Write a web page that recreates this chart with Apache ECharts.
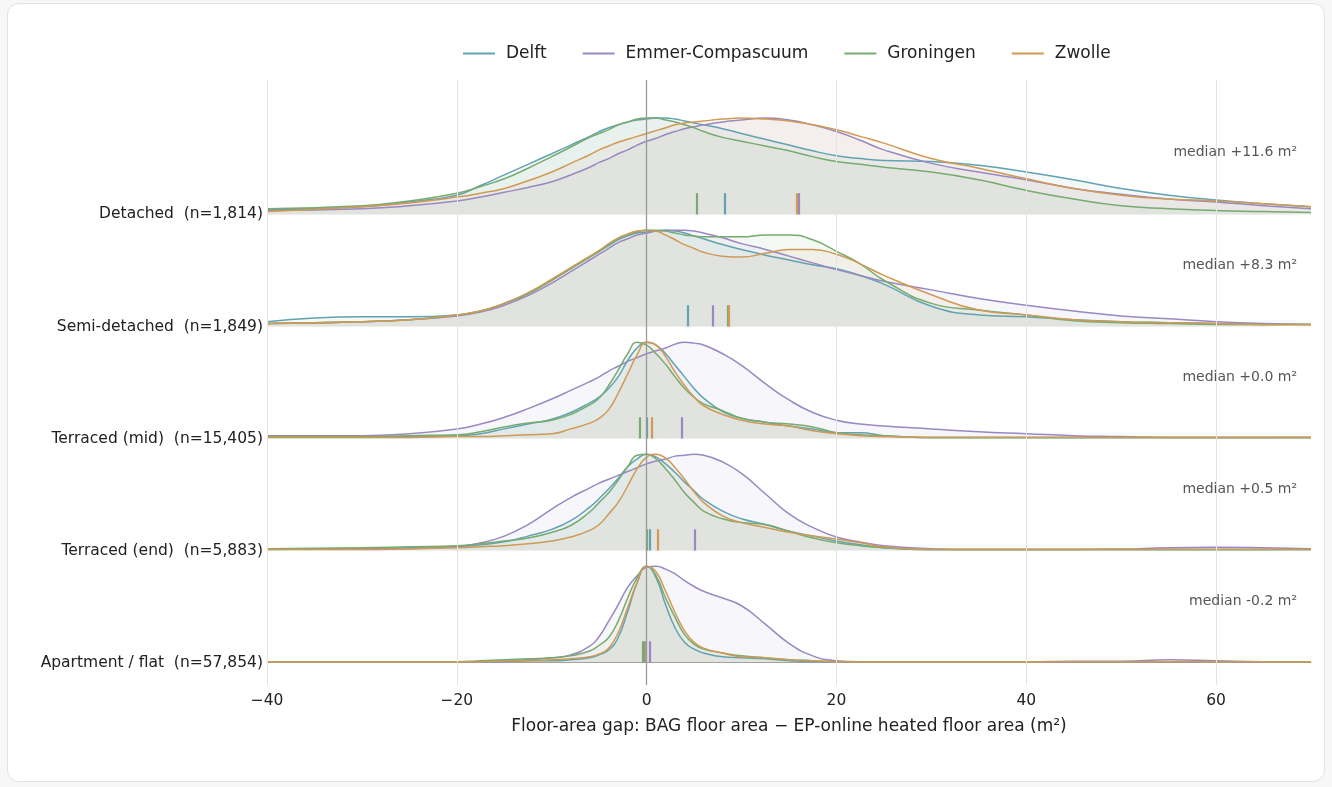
<!DOCTYPE html>
<html>
<head>
<meta charset="utf-8">
<script src="https://cdn.jsdelivr.net/npm/echarts@6/dist/echarts.min.js"></script>
<style>
  html, body { margin: 0; padding: 0; background: #f7f7f7; }
  #card { position: absolute; left: 7px; top: 3px; width: 1316px; height: 777px;
          background: #fff; border: 1px solid #e2e2e2; border-radius: 12px; }
  #main { position: absolute; left: 0; top: 0; width: 1332px; height: 787px; }
</style>
</head>
<body>
<div id="card"></div>
<div id="main"></div>
<script>
// x positions where the densities were read (m²)
var XS = [-40, -30, -25, -20, -17.5, -15, -12.5, -10, -8, -6, -5, -4, -3, -2, -1,
          0, 1, 2, 3, 4, 5, 6, 8, 10, 12.5, 15, 17.5, 20, 22.5, 25,
          30, 35, 40, 45, 50, 55, 60, 65, 70];

var ROW_LABELS = ['Detached  (n=1,814)', 'Semi-detached  (n=1,849)', 'Terraced (mid)  (n=15,405)',
                  'Terraced (end)  (n=5,883)', 'Apartment / flat  (n=57,854)'];
var ROW_MEDIANS = ['+11.6', '+8.3', '+0.0', '+0.5', '-0.2'];

var CITIES = ['Delft', 'Emmer-Compascuum', 'Groningen', 'Zwolle'];
var COLORS = ['#62a3b2', '#9a88c2', '#77ab70', '#d09a55'];

// normalised densities (peak = 1), one array per row, top row first
var DELFT = [
  [0.05,0.08,0.13,0.20, 0.30,0.41,0.52,0.63, 0.72,0.81,0.86,0.90,0.93,0.96,0.98, 0.99, 1.0,1.0,0.99,0.97,0.95,0.93, 0.89,0.84, 0.78,0.72,0.66,0.61,0.58,0.56, 0.55,0.51,0.44,0.36,0.27,0.20,0.15,0.11,0.08],
  [0.05,0.10,0.10,0.12, 0.16,0.24,0.34,0.48, 0.60,0.72,0.78,0.84,0.90,0.94,0.97, 0.98, 0.99,1.0,0.99,0.97,0.94,0.91, 0.85,0.80, 0.74,0.69,0.64,0.60,0.53,0.44, 0.21,0.12,0.10,0.07,0.05,0.04,0.03,0.02,0.02],
  [0.02,0.02,0.02,0.03, 0.05,0.10,0.15,0.20, 0.27,0.37,0.43,0.52,0.64,0.81,0.94, 1.0, 0.97,0.88,0.76,0.64,0.52,0.42, 0.28,0.21, 0.17,0.13,0.10,0.06,0.06,0.03, 0.01,0.01,0.01,0.01,0.01,0.01,0.01,0.01,0.01],
  [0.02,0.02,0.03,0.04, 0.06,0.09,0.15,0.22, 0.31,0.45,0.54,0.64,0.75,0.87,0.95, 1.0, 0.97,0.90,0.81,0.71,0.62,0.53, 0.41,0.33, 0.27,0.20,0.15,0.10,0.06,0.03, 0.01,0.01,0.01,0.01,0.01,0.01,0.01,0.01,0.01],
  [0.01,0.01,0.01,0.01, 0.01,0.01,0.02,0.02, 0.03,0.05,0.08,0.13,0.26,0.53,0.83, 1.0, 0.88,0.60,0.36,0.21,0.14,0.10, 0.06,0.05, 0.04,0.02,0.01,0.01,0.01,0.01, 0.01,0.01,0.01,0.01,0.01,0.01,0.01,0.01,0.01]
];
var EMMER = [
  [0.04,0.06,0.09,0.14, 0.18,0.23,0.28,0.34, 0.41,0.49,0.54,0.58,0.63,0.67,0.72, 0.76, 0.79,0.83,0.86,0.89,0.91,0.93, 0.96,0.98, 1.0,0.98,0.93,0.86,0.77,0.67, 0.53,0.44,0.36,0.27,0.21,0.16,0.13,0.09,0.06],
  [0.03,0.05,0.07,0.11, 0.15,0.22,0.32,0.45, 0.57,0.69,0.75,0.81,0.87,0.91,0.95, 0.97, 0.99,1.0,1.0,1.0,0.99,0.97, 0.92,0.86, 0.80,0.73,0.66,0.59,0.53,0.47, 0.38,0.29,0.22,0.16,0.11,0.08,0.05,0.03,0.02],
  [0.03,0.03,0.05,0.10, 0.15,0.22,0.31,0.41, 0.50,0.59,0.64,0.70,0.75,0.80,0.84, 0.88, 0.91,0.94,0.98,1.0,0.99,0.97, 0.88,0.76, 0.57,0.40,0.27,0.19,0.15,0.13, 0.10,0.07,0.05,0.03,0.02,0.01,0.01,0.01,0.01],
  [0.01,0.02,0.02,0.04, 0.08,0.15,0.27,0.43, 0.55,0.65,0.70,0.74,0.78,0.82,0.86, 0.90, 0.93,0.95,0.98,0.99,1.0,0.99, 0.92,0.80, 0.59,0.38,0.24,0.14,0.09,0.05, 0.02,0.01,0.01,0.01,0.015,0.03,0.035,0.03,0.02],
  [0.01,0.01,0.01,0.01, 0.01,0.02,0.03,0.05, 0.08,0.17,0.27,0.43,0.60,0.78,0.90, 0.99, 1.0,0.97,0.92,0.85,0.79,0.74, 0.67,0.59, 0.40,0.20,0.07,0.02,0.01,0.01, 0.01,0.01,0.01,0.015,0.015,0.03,0.02,0.01,0.01]
];
var GRONINGEN = [
  [0.06,0.09,0.14,0.22, 0.29,0.37,0.48,0.60, 0.70,0.80,0.84,0.88,0.93,0.96,0.99, 1.0, 1.0,0.98,0.96,0.93,0.90,0.86, 0.80,0.76, 0.71,0.66,0.60,0.55,0.52,0.49, 0.44,0.36,0.25,0.16,0.09,0.06,0.04,0.03,0.02],
  [0.03,0.05,0.07,0.12, 0.16,0.24,0.34,0.48, 0.60,0.72,0.78,0.85,0.91,0.95,0.98, 1.0, 1.0,0.99,0.97,0.95,0.94,0.93, 0.93,0.93, 0.95,0.95,0.90,0.78,0.65,0.48, 0.24,0.17,0.12,0.06,0.04,0.03,0.02,0.02,0.02],
  [0.02,0.02,0.03,0.04, 0.07,0.12,0.16,0.19, 0.25,0.35,0.42,0.55,0.71,0.88,1.0, 0.97, 0.88,0.77,0.64,0.52,0.43,0.36, 0.29,0.21, 0.17,0.15,0.12,0.06,0.04,0.03, 0.01,0.01,0.01,0.01,0.01,0.01,0.01,0.01,0.01],
  [0.02,0.03,0.04,0.05, 0.07,0.10,0.13,0.19, 0.26,0.40,0.50,0.60,0.73,0.87,0.99, 1.0, 0.95,0.85,0.73,0.60,0.50,0.41, 0.33,0.29, 0.27,0.20,0.13,0.08,0.05,0.03, 0.01,0.01,0.01,0.01,0.01,0.01,0.01,0.01,0.01],
  [0.01,0.01,0.01,0.01, 0.02,0.03,0.04,0.05, 0.07,0.12,0.18,0.26,0.43,0.67,0.88, 1.0, 0.90,0.67,0.47,0.29,0.19,0.14, 0.10,0.07, 0.05,0.03,0.02,0.01,0.01,0.01, 0.01,0.01,0.01,0.01,0.01,0.01,0.01,0.01,0.01]
];
var ZWOLLE = [
  [0.03,0.08,0.12,0.18, 0.22,0.27,0.35,0.44, 0.53,0.62,0.67,0.71,0.75,0.78,0.81, 0.84, 0.87,0.90,0.93,0.95,0.96,0.97, 0.99,1.0, 0.99,0.97,0.93,0.88,0.81,0.74, 0.58,0.48,0.37,0.27,0.20,0.16,0.14,0.11,0.08],
  [0.03,0.05,0.07,0.12, 0.16,0.24,0.35,0.49, 0.61,0.73,0.79,0.86,0.92,0.96,0.99, 1.0, 0.99,0.95,0.90,0.85,0.81,0.77, 0.73,0.72, 0.76,0.80,0.80,0.75,0.65,0.53, 0.33,0.17,0.12,0.07,0.05,0.04,0.03,0.02,0.02],
  [0.01,0.01,0.01,0.02, 0.02,0.03,0.04,0.05, 0.10,0.16,0.21,0.30,0.47,0.67,0.87, 1.0, 0.97,0.85,0.69,0.55,0.43,0.34, 0.25,0.19, 0.15,0.13,0.08,0.05,0.03,0.02, 0.01,0.01,0.01,0.01,0.01,0.01,0.01,0.01,0.01],
  [0.01,0.01,0.02,0.03, 0.04,0.05,0.07,0.10, 0.14,0.21,0.27,0.38,0.50,0.67,0.85, 0.97, 1.0,0.96,0.86,0.74,0.61,0.50, 0.36,0.29, 0.24,0.19,0.15,0.12,0.08,0.04, 0.01,0.01,0.01,0.01,0.01,0.01,0.01,0.01,0.01],
  [0.01,0.01,0.01,0.01, 0.01,0.02,0.02,0.03, 0.04,0.06,0.09,0.15,0.31,0.57,0.83, 1.0, 0.94,0.74,0.52,0.33,0.21,0.15, 0.10,0.06, 0.05,0.03,0.02,0.01,0.01,0.01, 0.01,0.01,0.01,0.01,0.01,0.01,0.01,0.01,0.01]
];
var DENSITIES = [DELFT, EMMER, GRONINGEN, ZWOLLE];

// per-city medians for each row (m²)
var MED_DELFT = [8.2, 4.3, 0.0, 0.3, -0.2];
var MED_EMMER = [16.0, 7.0, 3.7, 5.1, 0.3];
var MED_GRONINGEN = [5.3, 8.5, -0.7, 0.0, -0.4];
var MED_ZWOLLE = [15.8, 8.7, 0.5, 1.2, -0.1];
var MEDIANS = [MED_DELFT, MED_EMMER, MED_GRONINGEN, MED_ZWOLLE];

var X_TICKS = [-40, -20, 0, 20, 40, 60];

var ROW_STEP = 10;   // y units between baselines
var PEAK = 8.6;      // height of a normalised peak
var TICK_H = 1.9;    // height of the median ticks
var FONT = 'DejaVu Sans';

function baseOf(r) { return (ROW_LABELS.length - 1 - r) * ROW_STEP; }

var chart = echarts.init(document.getElementById('main'));
var series = [];

// grid lines
series.push({
    type: 'line', data: [], silent: true, z: 1,
    markLine: {
        symbol: 'none', silent: true, label: {show: false},
        lineStyle: {color: '#e4e4e4', width: 1, type: 'solid'},
        data: X_TICKS.map(function (v) { return {xAxis: v}; })
    }
});

for (var r = 0; r < ROW_LABELS.length; r++) {
    var base = baseOf(r);
    for (var c = 0; c < CITIES.length; c++) {
        var dens = DENSITIES[c][r];
        var pts = [];
        for (var i = 0; i < XS.length; i++) {
            pts.push([XS[i], base + dens[i] * PEAK]);
        }
        var m = MEDIANS[c][r];
        series.push({
            name: CITIES[c],
            type: 'line',
            data: pts,
            smooth: 0.5,
            showSymbol: false,
            symbol: 'none',
            z: 3,
            color: COLORS[c],
            lineStyle: {width: 1.5, color: COLORS[c]},
            areaStyle: {color: COLORS[c], opacity: 0.08, origin: base},
            markLine: {
                symbol: 'none', silent: true, label: {show: false},
                lineStyle: {color: COLORS[c], width: 2.2, type: 'solid'},
                data: [[{coord: [m, base]}, {coord: [m, base + TICK_H]}]]
            }
        });
    }
    // median text on the right
    series.push({
        type: 'scatter', name: 'median', silent: true, z: 5,
        symbolSize: 0,
        data: [[70, base + 5.5]],
        label: {
            show: true, position: 'left', distance: 14,
            formatter: 'median ' + ROW_MEDIANS[r] + ' m²',
            fontFamily: FONT, fontSize: 14, color: '#2a2a2a'
        }
    });
}

// zero line on top
series.push({
    type: 'line', data: [], silent: true, z: 4,
    markLine: {
        symbol: 'none', silent: true, label: {show: false},
        lineStyle: {color: '#9a9a9a', width: 1.3, type: 'solid'},
        data: [{xAxis: 0}]
    }
});

chart.setOption({
    animation: false,
    backgroundColor: 'transparent',
    textStyle: {fontFamily: FONT},
    legend: {
        data: CITIES,
        left: 458,
        top: 40,
        icon: 'rect',
        itemWidth: 32,
        itemHeight: 2,
        itemGap: 36,
        textStyle: {fontFamily: FONT, fontSize: 17, color: '#222', padding: [0, 0, 0, 6]}
    },
    grid: {left: 267, right: 21, top: 80, bottom: 102, containLabel: false},
    xAxis: {
        type: 'value',
        min: -40, max: 70, interval: 20,
        name: 'Floor-area gap: BAG floor area − EP-online heated floor area (m²)',
        nameLocation: 'middle',
        nameGap: 33,
        nameTextStyle: {fontFamily: FONT, fontSize: 17, color: '#222'},
        axisLine: {show: true, lineStyle: {color: '#a8a8a8', width: 1.2}},
        axisTick: {show: true, length: 5, customValues: X_TICKS, lineStyle: {color: '#555'}},
        axisLabel: {
            customValues: X_TICKS,
            fontFamily: FONT, fontSize: 15.5, color: '#222', margin: 8,
            formatter: function (v) { return String(v).replace('-', '\u2212'); }
        },
        splitLine: {show: false}
    },
    yAxis: {
        type: 'value',
        min: -2, max: 52, interval: 2,
        axisLine: {show: false},
        axisTick: {show: false},
        splitLine: {show: false},
        axisLabel: {
            customValues: [0, 10, 20, 30, 40],
            fontFamily: FONT, fontSize: 15.5, color: '#222', margin: 4,
            formatter: function (v) {
                var idx = Math.round((baseOf(0) - v) / ROW_STEP);
                return ROW_LABELS[idx] || '';
            }
        }
    },
    series: series
});
</script>
</body>
</html>
